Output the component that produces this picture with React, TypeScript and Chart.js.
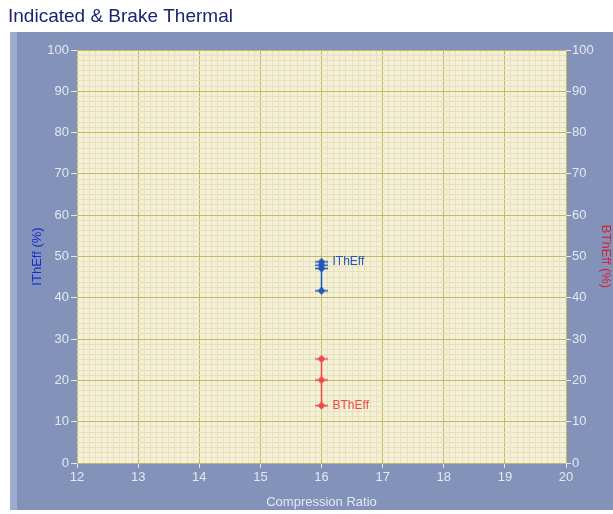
import React, { useEffect, useRef } from "react";
import { Chart, registerables } from "chart.js";

Chart.register(...registerables);

const chartTitle = "Indicated & Brake Thermal";
const xTitle = "Compression Ratio";
const yLeftTitle = "IThEff (%)";
const yRightTitle = "BThEff (%)";
const seriesNames = ["IThEff", "BThEff"];
const compressionRatio = [16, 16, 16, 16];
const iThEff = [41.7, 47.1, 47.9, 48.7];
const bThEffX = [16, 16, 16];
const bThEff = [25.2, 20.1, 13.9];

const BLUE = "#2356b8";
const RED = "#ee4a4a";
const FONT = "'Liberation Sans Narrow', 'Liberation Sans', Arial, sans-serif";

function makeMarker(color: string) {
  const c = document.createElement("canvas");
  c.width = 13;
  c.height = 9;
  const g = c.getContext("2d")!;
  g.fillStyle = color;
  g.strokeStyle = color;
  g.lineWidth = 1.5;
  g.beginPath();
  g.moveTo(0, 4.5);
  g.lineTo(13, 4.5);
  g.stroke();
  g.beginPath();
  g.moveTo(6.5, 0.5);
  g.lineTo(10.5, 4.5);
  g.lineTo(6.5, 8.5);
  g.lineTo(2.5, 4.5);
  g.closePath();
  g.fill();
  return c;
}

const isMajorX = (v: number) => Math.abs(v - Math.round(v)) < 1e-6;
const isMajorY = (v: number) => Math.abs(v / 10 - Math.round(v / 10)) < 1e-6;

const MAJOR = "#c2bb62";
const MINOR = "#e6e0bc";
const TICKTXT = "#e4e8f2";

const bgPlugin = {
  id: "bgPanel",
  beforeDraw(chart: any) {
    const { ctx, chartArea } = chart;
    ctx.save();
    ctx.fillStyle = "#ffffff";
    ctx.fillRect(0, 0, chart.width, chart.height);
    ctx.fillStyle = "#8392b9";
    ctx.fillRect(10, 32, chart.width - 10, 478);
    ctx.fillStyle = "#9eabcf";
    ctx.fillRect(10, 32, 7, 478);
    ctx.fillStyle = "#f4f0d8";
    ctx.fillRect(chartArea.left, chartArea.top, chartArea.right - chartArea.left, chartArea.bottom - chartArea.top);
    ctx.fillStyle = "#1c2470";
    ctx.font = "19px 'Liberation Sans', Arial, sans-serif";
    ctx.textBaseline = "middle";
    ctx.textAlign = "left";
    ctx.fillText(chartTitle, 8, 17);
    ctx.restore();
  },
  afterDatasetsDraw(chart: any) {
    const { ctx } = chart;
    ctx.save();
    ctx.font = "12px 'Liberation Sans', Arial, sans-serif";
    ctx.textBaseline = "middle";
    ctx.textAlign = "left";
    chart.data.datasets.forEach((ds: any, i: number) => {
      const meta = chart.getDatasetMeta(i);
      const pt = meta.data[meta.data.length - 1];
      ctx.fillStyle = ds.borderColor;
      ctx.fillText(ds.label, pt.x + 11, pt.y);
    });
    ctx.restore();
  },
};

export default function App() {
  const ref = useRef<HTMLCanvasElement>(null);
  useEffect(() => {
    if (!ref.current) return;
    const chart = new Chart(ref.current, {
      type: "line",
      data: {
        datasets: [
          {
            label: seriesNames[0],
            data: compressionRatio.map((x, i) => ({ x, y: iThEff[i] })),
            borderColor: BLUE,
            backgroundColor: BLUE,
            borderWidth: 1.5,
            pointStyle: makeMarker(BLUE) as any,
            yAxisID: "y",
          },
          {
            label: seriesNames[1],
            data: bThEffX.map((x, i) => ({ x, y: bThEff[i] })),
            borderColor: RED,
            backgroundColor: RED,
            borderWidth: 1.5,
            pointStyle: makeMarker(RED) as any,
            yAxisID: "y2",
          },
        ],
      },
      options: {
        responsive: false,
        animation: false,
        layout: { padding: { left: 10, right: 0, top: 50, bottom: 4 } },
        plugins: { legend: { display: false }, tooltip: { enabled: false } },
        scales: {
          x: {
            type: "linear",
            min: 12,
            max: 20,
            afterFit: (s: any) => { s.height = 47; },
            ticks: {
              stepSize: 0.1,
              autoSkip: false,
              maxRotation: 0,
              color: TICKTXT,
              font: { family: FONT, size: 13 },
              padding: 2,
              callback: (v: any) => (isMajorX(Number(v)) ? String(Math.round(Number(v))) : ""),
            },
            grid: {
              color: (c: any) => (isMajorX(c.tick.value) ? MAJOR : MINOR),
              tickColor: (c: any) => (isMajorX(c.tick.value) ? TICKTXT : "transparent"),
              tickLength: 5,
              lineWidth: 1,
            },
            border: { display: false },
            title: { display: true, text: xTitle, color: TICKTXT, font: { family: FONT, size: 13 }, padding: { top: 2, bottom: 0 } },
          },
          y: {
            type: "linear",
            position: "left",
            min: 0,
            max: 100,
            afterFit: (s: any) => { s.width = 67; },
            ticks: {
              stepSize: 1.25,
              autoSkip: false,
              color: TICKTXT,
              font: { family: FONT, size: 13 },
              padding: 2,
              callback: (v: any) => (isMajorY(Number(v)) ? String(Math.round(Number(v))) : ""),
            },
            grid: {
              color: (c: any) => (isMajorY(c.tick.value) ? MAJOR : MINOR),
              tickColor: (c: any) => (isMajorY(c.tick.value) ? TICKTXT : "transparent"),
              tickLength: 6,
              lineWidth: 1,
            },
            border: { display: false },
            title: { display: true, text: yLeftTitle, color: "#1a2ad0", font: { family: FONT, size: 13 }, padding: { top: 20, bottom: 0 } },
          },
          y2: {
            type: "linear",
            position: "right",
            min: 0,
            max: 100,
            afterFit: (s: any) => { s.width = 47; },
            ticks: {
              stepSize: 1.25,
              autoSkip: false,
              color: TICKTXT,
              font: { family: FONT, size: 13 },
              padding: 1,
              callback: (v: any) => (isMajorY(Number(v)) ? String(Math.round(Number(v))) : ""),
            },
            grid: {
              drawOnChartArea: false,
              tickColor: (c: any) => (isMajorY(c.tick.value) ? TICKTXT : "transparent"),
              tickLength: 5,
            },
            border: { display: false },
            title: { display: true, text: yRightTitle, color: "#d8203a", font: { family: FONT, size: 13 }, padding: { top: 0, bottom: 0 } },
          },
        },
      },
      plugins: [bgPlugin],
    } as any);
    return () => chart.destroy();
  }, []);
  return (
    <div style={{ position: "absolute", left: 0, top: 0, width: 613, height: 514 }}>
      <canvas ref={ref} width={613} height={514} style={{ display: "block" }} />
    </div>
  );
}
